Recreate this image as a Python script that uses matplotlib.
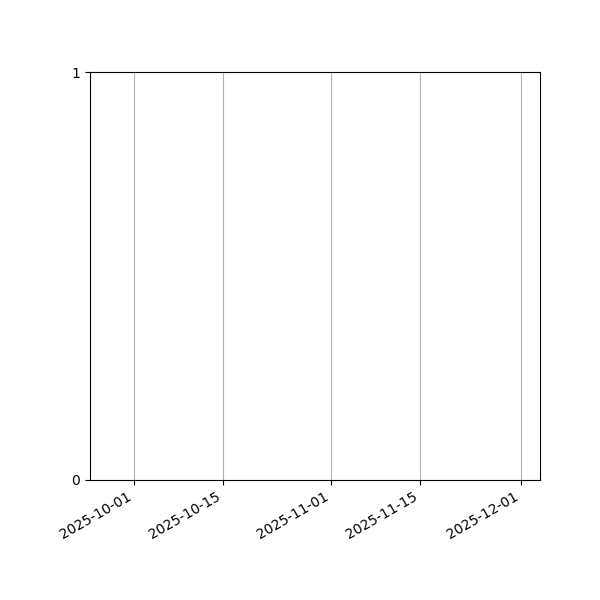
import matplotlib
matplotlib.use("Agg")
import matplotlib.pyplot as plt
import matplotlib.dates as mdates
import datetime as dt

# visible window of the timeline (no tasks plotted)
view_start = dt.datetime(2025, 9, 24, 1)
view_end = dt.datetime(2025, 12, 4)
tick_dates = [dt.datetime(2025, 10, 1), dt.datetime(2025, 10, 15),
              dt.datetime(2025, 11, 1), dt.datetime(2025, 11, 15),
              dt.datetime(2025, 12, 1)]
y_ticks = [0, 1]

fig, ax = plt.subplots(figsize=(6, 6), dpi=100)
ax.set_xlim(view_start, view_end)
ax.set_ylim(0, 1)
ax.set_yticks(y_ticks)
ax.set_xticks(tick_dates)
ax.xaxis.set_major_formatter(mdates.DateFormatter("%Y-%m-%d"))
ax.grid(axis="x")
fig.autofmt_xdate()
fig.subplots_adjust(left=0.15, right=0.9, top=0.88, bottom=0.2)
fig.savefig("out.png")
